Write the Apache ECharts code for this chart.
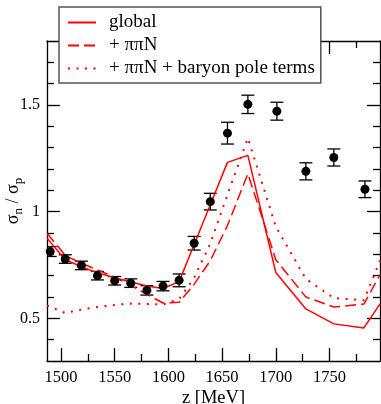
<!DOCTYPE html>
<html><head><meta charset="utf-8">
<script src="https://cdn.jsdelivr.net/npm/echarts@6/dist/echarts.min.js"></script>
<style>html,body{margin:0;padding:0;background:#fff}#c{width:381px;height:404px}</style>
</head><body><div id="c"></div>
<script>
// data points (sigma_n / sigma_p) with errors
const dataEnergy = [1490, 1504, 1519, 1534, 1550, 1565, 1580, 1595, 1610, 1624, 1639, 1655, 1674, 1701, 1728, 1754, 1783];
const dataRatio  = [0.813, 0.778, 0.748, 0.700, 0.676, 0.665, 0.631, 0.651, 0.678, 0.852, 1.047, 1.368, 1.503, 1.471, 1.189, 1.254, 1.105];
const dataError  = [0.023, 0.020, 0.020, 0.020, 0.020, 0.020, 0.022, 0.022, 0.030, 0.032, 0.039, 0.051, 0.043, 0.042, 0.040, 0.040, 0.039];
// model curves
const curveEnergy = [1487, 1504, 1519, 1534, 1550, 1565, 1580, 1595, 1610, 1624, 1639, 1655, 1674, 1700, 1728, 1754, 1782, 1797];
const globalFit   = [0.876, 0.775, 0.742, 0.713, 0.690, 0.670, 0.652, 0.640, 0.672, 0.846, 1.032, 1.231, 1.264, 0.715, 0.544, 0.474, 0.455, 0.568];
const ppnFit      = [0.899, 0.795, 0.758, 0.727, 0.692, 0.655, 0.612, 0.572, 0.575, 0.660, 0.770, 0.935, 1.178, 0.775, 0.600, 0.553, 0.567, 0.704];
const baryonFit   = [0.560, 0.525, 0.541, 0.553, 0.563, 0.569, 0.567, 0.565, 0.590, 0.690, 0.850, 1.080, 1.345, 0.930, 0.685, 0.595, 0.585, 0.770];
const seriesNames = ['global', '+ \u03c0\u03c0N', '+ \u03c0\u03c0N + baryon pole terms'];
const xMajor = [1500, 1550, 1600, 1650, 1700, 1750];
const xMinor = [1525, 1575, 1625, 1675, 1725, 1775];
const yMajor = [0.5, 1, 1.5];
const yMinor = [0.4, 0.6, 0.7, 0.8, 0.9, 1.1, 1.2, 1.3, 1.4, 1.6, 1.7];
const xRange = [1487, 1797];
const yRange = [0.3, 1.8];

const FONT = 'Liberation Serif';
const RED = '#ff0000';
const axisLine = {show: true, lineStyle: {color: '#000', width: 1.3}};

function xAx(pos, ticks, len, main) {
  return {
    type: 'value', position: pos, min: xRange[0], max: xRange[1],
    axisLine: main ? axisLine : {show: false},
    axisTick: {show: true, inside: true, length: len, customValues: ticks, lineStyle: {color: '#000', width: 1.3}},
    axisLabel: (main && pos === 'bottom') ? {show: true, customValues: ticks, formatter: v => String(v), color: '#000', fontFamily: FONT, fontSize: 16.5, margin: 8} : {show: false},
    splitLine: {show: false},
    name: (main && pos === 'bottom') ? 'z [MeV]' : '',
    nameLocation: 'middle', nameGap: 28, nameMoveOverlap: false,
    nameTextStyle: {color: '#000', fontFamily: FONT, fontSize: 18.5}
  };
}
function yAx(pos, ticks, len, main) {
  return {
    type: 'value', position: pos, min: yRange[0], max: yRange[1],
    axisLine: main ? axisLine : {show: false},
    axisTick: {show: true, inside: true, length: len, customValues: ticks, lineStyle: {color: '#000', width: 1.3}},
    axisLabel: (main && pos === 'left') ? {show: true, customValues: ticks, formatter: v => String(v), color: '#000', fontFamily: FONT, fontSize: 16, margin: 7} : {show: false},
    splitLine: {show: false},
    name: (main && pos === 'left') ? '{s|\u03c3}{sub|n}{s| / \u03c3}{sub|p}' : '',
    nameLocation: 'middle', nameGap: 22, nameRotate: 90, nameMoveOverlap: false,
    nameTextStyle: {color: '#000', fontFamily: FONT, fontSize: 18,
      rich: {s: {fontFamily: FONT, fontSize: 18, color: '#000', verticalAlign: 'middle'},
             sub: {fontFamily: FONT, fontSize: 13, color: '#000', verticalAlign: 'middle', padding: [10, 0, 0, 0]}}}
  };
}

const chart = echarts.init(document.getElementById('c'), null, {renderer: 'canvas'});
const option = {
  animation: false,
  backgroundColor: '#fff',
  grid: {left: 47, top: 41, right: 1, bottom: 43, containLabel: false, outerBoundsMode: 'none'},
  xAxis: [xAx('bottom', xMajor, 13, true), xAx('bottom', xMinor, 7, false), xAx('top', xMajor, 13, true), xAx('top', xMinor, 7, false)],
  yAxis: [yAx('left', yMajor, 13, true), yAx('left', yMinor, 7, false), yAx('right', yMajor, 13, true), yAx('right', yMinor, 7, false)],
  legend: {
    left: 59, top: 7, orient: 'vertical',
    backgroundColor: '#fff', borderColor: '#555', borderWidth: 1.5, borderRadius: 0,
    padding: [6, 6, 5, 8], itemWidth: 28, itemHeight: 16, itemGap: 4,
    itemStyle: {color: 'rgba(0,0,0,0)', borderWidth: 0, opacity: 0},
    textStyle: {fontFamily: FONT, fontSize: 19, lineHeight: 19, color: '#000', padding: [0, 0, 0, 8]},
    data: seriesNames
  },
  series: [
    {name: seriesNames[0], type: 'line', symbol: 'none', clip: true, data: curveEnergy.map((e, i) => [e, globalFit[i]]),
     lineStyle: {color: RED, width: 1.5, type: 'solid'}, itemStyle: {color: RED}},
    {name: seriesNames[1], type: 'line', symbol: 'none', clip: true, data: curveEnergy.map((e, i) => [e, ppnFit[i]]),
     lineStyle: {color: RED, width: 1.5, type: [11, 5]}, itemStyle: {color: RED}},
    {name: seriesNames[2], type: 'line', symbol: 'none', clip: true, data: curveEnergy.map((e, i) => [e, baryonFit[i]]),
     lineStyle: {color: RED, width: 2, type: [2, 6.5]}, itemStyle: {color: RED}},
    {name: 'err', type: 'custom', clip: true,
     data: dataEnergy.map((e, i) => [e, dataRatio[i] - dataError[i], dataRatio[i] + dataError[i]]),
     encode: {x: 0, y: [1, 2]},
     renderItem: function (params, api) {
       const x = api.value(0);
       const p1 = api.coord([x, api.value(1)]);
       const p2 = api.coord([x, api.value(2)]);
       const w = 6.5;
       const st = {stroke: '#000', lineWidth: 1.3};
       return {type: 'group', children: [
         {type: 'line', shape: {x1: p1[0], y1: p1[1], x2: p2[0], y2: p2[1]}, style: st},
         {type: 'line', shape: {x1: p1[0] - w, y1: p1[1], x2: p1[0] + w, y2: p1[1]}, style: st},
         {type: 'line', shape: {x1: p2[0] - w, y1: p2[1], x2: p2[0] + w, y2: p2[1]}, style: st}
       ]};
     }},
    {name: 'data', type: 'scatter', symbol: 'circle', symbolSize: 9, z: 5,
     data: dataEnergy.map((e, i) => [e, dataRatio[i]]), itemStyle: {color: '#000', opacity: 1}}
  ]
};
chart.setOption(option);
</script>
</body></html>
